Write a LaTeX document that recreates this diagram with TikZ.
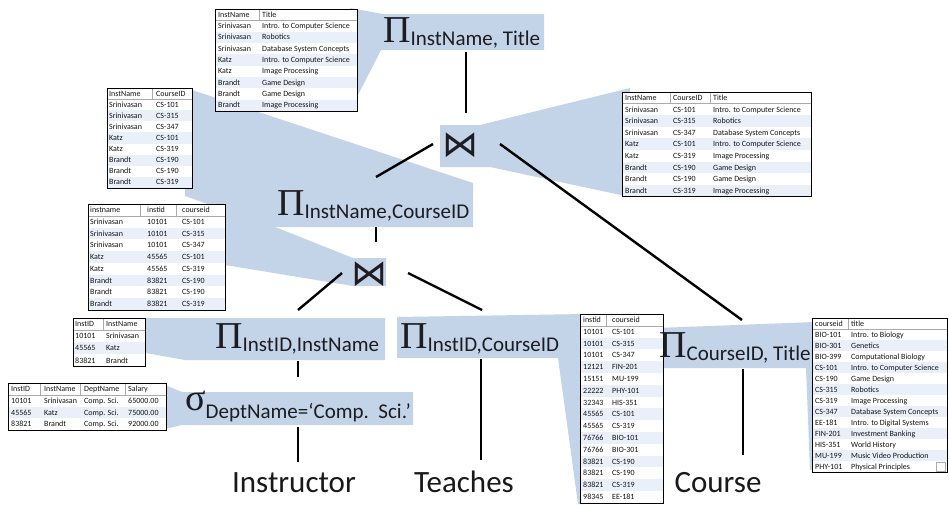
\documentclass[tikz,border=0pt]{standalone}
\usepackage{fontspec}
\setmainfont{Carlito}
\newfontfamily\pifont{Liberation Serif}
\newfontfamily\symfont{DejaVu Sans}
\usetikzlibrary{calc}

\definecolor{callout}{RGB}{196,212,232}
\definecolor{stripe}{RGB}{233,240,250}
\definecolor{optext}{RGB}{28,28,34}
\definecolor{hdr}{RGB}{170,170,170}

\newcommand\PiOp[1]{{\pifont\fontsize{38}{40}\selectfont Π}\raisebox{-3.5pt}{\fontsize{21}{24}\selectfont #1}}
\newcommand\SigOp[1]{{\pifont\fontsize{38}{40}\selectfont σ}\raisebox{-8pt}{\fontsize{21}{24}\selectfont #1}}

\tikzset{
  cell/.style={anchor=base west, inner sep=0pt, font=\fontsize{8}{9}\selectfont, text=black!92},
  hdrline/.style={draw=hdr, line width=0.5pt},
  conn/.style={draw=black, line width=2.4pt},
  oplabel/.style={anchor=base west, inner sep=0pt, text=optext},
  leaf/.style={anchor=base, inner sep=0pt, font=\fontsize{31}{34}\selectfont, text=black!90},
  bowtie/.style={inner sep=0pt, font=\symfont\fontsize{36}{38}\selectfont, text=optext},
  co/.style={fill=callout}
}

% #1 name, #2 x, #3 y, #4 width, #5 row height, #6 rows (with header), #7 header dividers
\newcommand\tframe[7]{%
  \fill[white] (#2,#3) rectangle ++(#4,#6*#5);
  \pgfmathtruncatemacro\lastrow{#6-1}%
  \foreach \r in {1,...,\lastrow}{\ifodd\r\else\fill[stripe] (#2,#3+\r*#5) rectangle ++(#4,#5);\fi}
  \draw[hdrline] (#2,#3+#5) -- ++(#4,0);
  \foreach \d in {#7}{\draw[hdrline] (\d,#3) -- ++(0,#5);}
  \node[draw=black, line width=0.8pt, inner sep=0pt, minimum width=#4, minimum height=#6*#5, anchor=north west] (#1) at (#2,#3) {};
}

\begin{document}
\begin{tikzpicture}[x=1pt,y=-1pt]
\useasboundingbox (0,0) rectangle (949,504);
\fill[white] (0,0) rectangle (949,504);

% ---------- callout shapes ----------
\fill[co] (350,8) -- (383,14) -- (544,14) -- (544,50) -- (381,50) -- (357,97) -- (350,97) -- cycle;
\fill[co] (440,125) -- (480,125) -- (630,88) -- (630,197) -- (490,167) -- (440,167) -- cycle;
\fill[co] (185,90) -- (192,90) -- (473,183) -- (473,227) -- (272,227) -- (185,196) -- cycle;
\fill[co] (215,207) -- (225,207) -- (353,258) -- (386,258) -- (386,286) -- (353,286) -- (225,265) -- (215,265) -- cycle;
\fill[co] (140,318) -- (385,318) -- (385,360) -- (185,360) -- (140,352) -- cycle;
\fill[co] (397,317) -- (585,314) -- (585,504) -- (578,504) -- (558,358) -- (397,358) -- cycle;
\fill[co] (160,383) -- (182,392) -- (413,392) -- (413,425) -- (182,425) -- (160,430) -- cycle;
\fill[co] (657,328) -- (815,322) -- (815,470) -- (810,470) -- (806,368) -- (657,368) -- cycle;

% ---------- tables ----------
\tframe{T1}{215}{9}{142}{11.33}{9}{259}
\foreach \a/\b [count=\i from 0] in {InstName/Title, Srinivasan/Intro. to Computer Science, Srinivasan/Robotics, Srinivasan/Database System Concepts, Katz/Intro. to Computer Science, Katz/Image Processing, Brandt/Game Design, Brandt/Game Design, Brandt/Image Processing}{
  \node[cell] (T1-\i-a) at (218,9+\i*11.33+8.2) {\a};
  \node[cell] (T1-\i-b) at (262,9+\i*11.33+8.2) {\b};
}

\tframe{T2}{107}{88}{85}{11.1}{9}{152}
\foreach \a/\b [count=\i from 0] in {InstName/CourseID, Srinivasan/CS-101, Srinivasan/CS-315, Srinivasan/CS-347, Katz/CS-101, Katz/CS-319, Brandt/CS-190, Brandt/CS-190, Brandt/CS-319}{
  \node[cell] (T2-\i-a) at (109,88+\i*11.1+8) {\a};
  \node[cell] (T2-\i-b) at (156,88+\i*11.1+8) {\b};
}

\tframe{T3}{88}{204}{137}{11.75}{9}{140,176}
\foreach \a/\b/\c [count=\i from 0] in {instname/instid/courseid, Srinivasan/10101/CS-101, Srinivasan/10101/CS-315, Srinivasan/10101/CS-347, Katz/45565/CS-101, Katz/45565/CS-319, Brandt/83821/CS-190, Brandt/83821/CS-190, Brandt/83821/CS-319}{
  \node[cell] (T3-\i-a) at (90,204+\i*11.75+8.5) {\a};
  \node[cell] (T3-\i-b) at (147,204+\i*11.75+8.5) {\b};
  \node[cell] (T3-\i-c) at (182,204+\i*11.75+8.5) {\c};
}

\tframe{TR}{622}{92}{189}{11.6}{9}{670,710}
\foreach \a/\b/\c [count=\i from 0] in {InstName/CourseID/Title, Srinivasan/CS-101/Intro. to Computer Science, Srinivasan/CS-315/Robotics, Srinivasan/CS-347/Database System Concepts, Katz/CS-101/Intro. to Computer Science, Katz/CS-319/Image Processing, Brandt/CS-190/Game Design, Brandt/CS-190/Game Design, Brandt/CS-319/Image Processing}{
  \node[cell] (TR-\i-a) at (625,92+\i*11.6+8.4) {\a};
  \node[cell] (TR-\i-b) at (673,92+\i*11.6+8.4) {\b};
  \node[cell] (TR-\i-c) at (713,92+\i*11.6+8.4) {\c};
}

\tframe{T4}{73}{318}{72}{12.1}{4}{103}
\foreach \a/\b [count=\i from 0] in {InstID/InstName, 10101/Srinivasan, 45565/Katz, 83821/Brandt}{
  \node[cell] (T4-\i-a) at (75,318+\i*12.1+8.7) {\a};
  \node[cell] (T4-\i-b) at (106,318+\i*12.1+8.7) {\b};
}

\tframe{T5}{8}{383}{158}{11.75}{4}{40,80,125}
\foreach \a/\b/\c/\d [count=\i from 0] in {InstID/InstName/DeptName/Salary, 10101/Srinivasan/Comp. Sci./65000.00, 45565/Katz/Comp. Sci./75000.00, 83821/Brandt/Comp. Sci./92000.00}{
  \node[cell] (T5-\i-a) at (11,383+\i*11.75+8.5) {\a};
  \node[cell] (T5-\i-b) at (44,383+\i*11.75+8.5) {\b};
  \node[cell] (T5-\i-c) at (84,383+\i*11.75+8.5) {\c};
  \node[cell] (T5-\i-d) at (128,383+\i*11.75+8.5) {\d};
}

\tframe{TT}{580}{314}{83}{11.8}{16}{606}
\foreach \a/\b [count=\i from 0] in {instid/courseid, 10101/CS-101, 10101/CS-315, 10101/CS-347, 12121/FIN-201, 15151/MU-199, 22222/PHY-101, 32343/HIS-351, 45565/CS-101, 45565/CS-319, 76766/BIO-101, 76766/BIO-301, 83821/CS-190, 83821/CS-190, 83821/CS-319, 98345/EE-181}{
  \node[cell] (TT-\i-a) at (583,314+\i*11.8+8.5) {\a};
  \node[cell] (TT-\i-b) at (612,314+\i*11.8+8.5) {\b};
}

\tframe{TC}{812}{318}{135}{11}{14}{848}
\foreach \a/\b [count=\i from 0] in {courseid/title, BIO-101/Intro. to Biology, BIO-301/Genetics, BIO-399/Computational Biology, CS-101/Intro. to Computer Science, CS-190/Game Design, CS-315/Robotics, CS-319/Image Processing, CS-347/Database System Concepts, EE-181/Intro. to Digital Systems, FIN-201/Investment Banking, HIS-351/World History, MU-199/Music Video Production, PHY-101/Physical Principles}{
  \node[cell] (TC-\i-a) at (815,318+\i*11+8) {\a};
  \node[cell] (TC-\i-b) at (851,318+\i*11+8) {\b};
}
\draw[draw=hdr, line width=0.5pt] (936,462) rectangle (945,471);

% ---------- operator labels ----------
\node[oplabel] (p1) at (383,42) {\PiOp{InstName, Title}};
\node[bowtie] (j1) at (460,145) {⋈};
\node[oplabel] (p2) at (277,215) {\PiOp{InstName,CourseID}};
\node[bowtie] (j2) at (369.5,274) {⋈};
\node[oplabel] (p3) at (215,348) {\PiOp{InstID,InstName}};
\node[oplabel] (p4) at (400,348) {\PiOp{InstID,CourseID}};
\node[oplabel] (s1) at (185,410) {\SigOp{DeptName=‘Comp.\ \ Sci.’}};
\node[oplabel] (p6) at (659,357) {\PiOp{CourseID, Title}};

\node[leaf] (instr) at (294,492) {Instructor};
\node[leaf] (teach) at (464,492) {Teaches};
\node[leaf] (course) at (718,492) {Course};

% ---------- connectors ----------
\coordinate (p1b) at (466,52);   \coordinate (j1t) at (466,113);
\coordinate (j1l) at (433,144);  \coordinate (p2t) at (376,177);
\coordinate (j1r) at (500,144);  \coordinate (p6t) at (742,320);
\coordinate (p2b) at (376,227);  \coordinate (j2t) at (376,242);
\coordinate (j2l) at (342,273);  \coordinate (p3t) at (298,310);
\coordinate (j2r) at (408,273);  \coordinate (p4t) at (482,310);
\coordinate (p3b) at (298,361);  \coordinate (s1t) at (298,377);
\coordinate (s1b) at (298,427);  \coordinate (instrt) at (298,462);
\coordinate (p4b) at (481,359);  \coordinate (teacht) at (481,460);
\coordinate (p6b) at (743,369);  \coordinate (courset) at (743,455);

\draw[conn] (p1b) -- (j1t);
\draw[conn] (j1l) -- (p2t);
\draw[conn] (j1r) -- (p6t);
\draw[conn] (p2b) -- (j2t);
\draw[conn] (j2l) -- (p3t);
\draw[conn] (j2r) -- (p4t);
\draw[conn] (p3b) -- (s1t);
\draw[conn] (s1b) -- (instrt);
\draw[conn] (p4b) -- (teacht);
\draw[conn] (p6b) -- (courset);
\end{tikzpicture}
\end{document}
